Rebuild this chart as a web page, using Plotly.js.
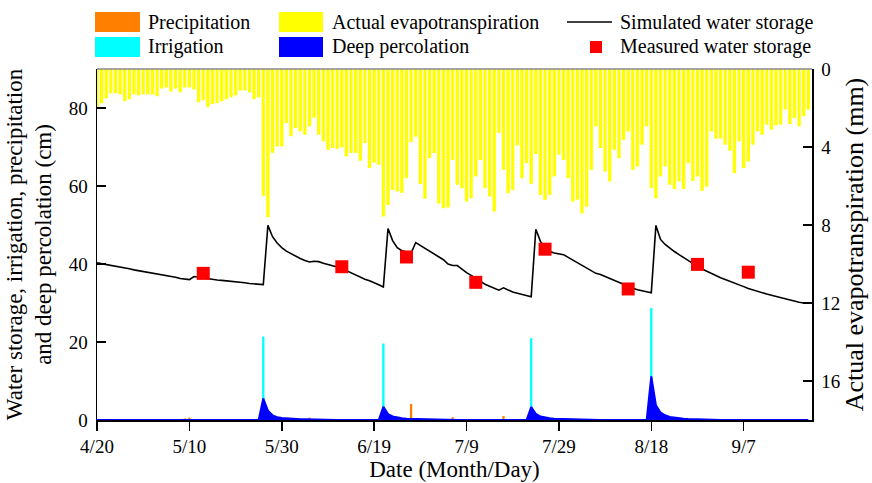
<!DOCTYPE html>
<html><head><meta charset="utf-8">
<script src="https://cdn.plot.ly/plotly-3.0.1.min.js"></script>
<style>html,body{margin:0;padding:0;background:#fff}</style>
</head><body><div id="chart" style="width:872px;height:483px"></div>
<script>
// Daily series start on 4/20 (index 0)
const startDate = '2019-04-20';

// Actual evapotranspiration (mm/day), right axis, hanging from top
const etValues = [
  1.95,1.75,1.5,1.25,1.25,1.3,1.65,1.55,1.3,1.35,
  1.3,1.3,1.3,1.4,1.0,0.95,1.15,1.0,1.2,0.95,
  0.95,1.05,1.7,1.6,1.95,1.8,1.75,1.65,1.55,1.45,
  1.35,1.1,1.1,1.2,1.55,1.45,6.5,7.6,4.3,3.97,
  3.97,2.77,3.45,3.02,3.2,3.37,2.94,2.5,3.37,3.71,
  4.14,4.05,4.1,4.02,4.48,4.3,4.3,4.7,3.8,5.08,
  4.8,4.91,7.57,6.97,6.2,6.28,6.35,5.6,3.75,3.47,
  5.9,6.65,4.57,4.31,6.9,7.14,7.1,4.66,5.94,6.11,
  6.8,6.63,5.51,4.66,6.11,6.54,7.31,3.28,5.17,6.37,
  6.2,3.92,5.6,4.83,5.89,4.36,6.46,6.71,6.46,5.51,
  4.4,4.66,5.6,6.8,6.71,7.4,7.06,5.17,2.94,4.05,
  5.26,5.77,4.14,4.57,3.63,3.2,5.17,5.0,3.88,2.94,
  6.11,6.63,5.51,5.0,5.94,6.15,5.77,6.15,4.83,5.74,
  5.51,6.25,6.03,3.2,3.57,3.57,3.88,4.19,5.34,3.71,
  5.08,4.74,3.88,3.2,3.37,2.85,3.11,2.89,2.85,2.08,
  2.82,2.51,2.94,2.42,2.08
];

// Simulated water storage (cm)
const storageSim = [
  40.3,40.1,39.9,39.6,39.4,39.2,39.0,38.8,38.5,38.3,
  38.1,37.9,37.7,37.4,37.2,37.0,36.8,36.6,36.3,36.1,
  36.0,36.8,36.6,36.4,36.2,36.1,35.9,35.8,35.7,35.5,
  35.4,35.3,35.2,35.0,34.9,34.8,34.7,49.9,47.0,45.4,
  44.2,43.3,42.6,42.0,41.4,40.9,40.5,40.7,40.6,40.2,
  39.9,39.6,39.3,38.9,38.3,37.7,37.1,36.5,36.1,35.7,
  35.3,34.7,34.1,49.1,46.0,44.2,43.4,43.0,42.8,45.5,
  44.8,44.1,43.4,42.7,42.0,41.1,40.0,39.6,39.6,38.6,
  37.8,37.1,36.3,35.5,34.8,34.3,33.7,33.3,33.9,33.3,
  32.8,32.5,32.2,31.8,31.6,48.9,45.8,44.2,43.2,42.8,
  42.6,42.4,41.7,41.0,40.2,39.5,38.8,38.1,37.6,37.3,
  36.8,36.2,35.6,35.1,34.7,34.3,33.8,33.4,33.1,32.8,
  32.6,49.9,46.3,45.0,44.0,43.2,42.4,41.6,40.9,40.2,
  39.4,38.7,38.1,37.5,37.0,36.5,36.0,35.6,35.1,34.7,
  34.2,33.7,33.3,32.9,32.6,32.3,32.0,31.7,31.3,31.0,
  30.7,30.5,30.2,30.0,30.0
];

// Deep percolation (cm)
const deepPerc = [
  0,0,0,0,0,0,0,0,0,0,
  0,0,0,0,0,0,0,0,0,0,
  0,0,0,0,0,0,0,0,0,0,
  0,0,0,0,0,0,5.5,2.4,1.2,0.7,
  0.5,0.4,0.3,0.25,0.2,0.2,0.15,0.1,0.05,0,
  0,0,0,0,0,0,0,0,0,0,
  0,0,3.4,1.5,0.9,0.6,0.45,0.35,0.3,0.25,
  0.2,0.15,0.1,0.1,0.05,0,0,0,0,0,
  0,0,0,0,0,0,0,0,0,0,
  0,0,0,0,3.3,1.6,0.9,0.6,0.45,0.35,
  0.3,0.2,0.15,0.1,0.1,0.05,0,0,0,0,
  0,0,0,0,0,0,0,0,0,0,
  11.2,3.8,1.9,1.2,0.8,0.6,0.45,0.35,0.25,0.2,
  0.1,0.05,0,0,0,0,0,0,0,0,
  0,0,0,0,0,0,0,0,0,0,
  0,0,0,0,0
];

// Precipitation events (cm)
const precipDates = ['2019-05-09','2019-05-10','2019-06-05','2019-06-27','2019-07-06','2019-07-17','2019-07-28'];
const precipValues = [0.4,0.6,0.6,4.1,0.7,1.0,0.5];

// Irrigation events (cm)
const irrigDates = ['2019-05-26','2019-06-21','2019-07-23','2019-08-18'];
const irrigValues = [21.4,19.6,21.0,28.7];

// Measured water storage (cm)
const measDates = ['2019-05-13','2019-06-12','2019-06-26','2019-07-11','2019-07-26','2019-08-13','2019-08-28','2019-09-08'];
const measValues = [37.6,39.3,41.8,35.3,43.8,33.6,39.9,37.9];

// Axis ticks
const leftTicks = [0,20,40,60,80];
const rightTicks = [0,4,8,12,16];

function dayString(i){
  const p = startDate.split('-').map(Number);
  const d = new Date(Date.UTC(p[0], p[1]-1, p[2] + i));
  return d.toISOString().slice(0,10);
}
const dates = etValues.map((_, i) => dayString(i));
const DAY = 86400000;

const serif = '"Liberation Serif", "Times New Roman", serif';

const traces = [
  { type:'bar', name:'Actual evapotranspiration', x:dates, y:etValues, yaxis:'y',
    width:0.72*DAY, marker:{color:'#ffff00', line:{width:0}} },
  { type:'bar', name:'Precipitation', x:precipDates, y:precipValues, yaxis:'y2',
    width:0.5*DAY, marker:{color:'#ff8000', line:{width:0}} },
  { type:'bar', name:'Irrigation', x:irrigDates, y:irrigValues, yaxis:'y2',
    width:0.5*DAY, marker:{color:'#00ffff', line:{width:0}} },
  { type:'scatter', mode:'lines', name:'Deep percolation', x:dates, y:deepPerc, yaxis:'y2',
    fill:'tozeroy', fillcolor:'#0000ff', line:{color:'#0000ff', width:2} },
  { type:'scatter', mode:'lines', name:'Simulated water storage', x:dates, y:storageSim, yaxis:'y2',
    line:{color:'#000000', width:1.6} },
  { type:'scatter', mode:'markers', name:'Measured water storage', x:measDates, y:measValues, yaxis:'y2',
    marker:{symbol:'square', size:13, color:'#ff0000'} }
];

// Legend (drawn in pixel positions converted to paper coords)
const M = {l:97, r:60, t:69, b:63};
const W = 872 - M.l - M.r, H = 483 - M.t - M.b;
const px = v => (v - M.l) / W;
const py = v => (483 - M.b - v) / H;
const legendItems = [
  {kind:'rect', color:'#ff8000', x0:95, x1:140, yc:22, text:'Precipitation', tx:146},
  {kind:'rect', color:'#00ffff', x0:95, x1:140, yc:47, text:'Irrigation', tx:146},
  {kind:'rect', color:'#ffff00', x0:279, x1:323, yc:22, text:'Actual evapotranspiration', tx:330},
  {kind:'rect', color:'#0000ff', x0:279, x1:323, yc:47, text:'Deep percolation', tx:330},
  {kind:'line', color:'#000000', x0:567, x1:612, yc:22, text:'Simulated water storage', tx:618},
  {kind:'square', color:'#ff0000', x0:590, x1:602, yc:47, text:'Measured water storage', tx:618}
];
const shapes = [
  {type:'line', xref:'paper', yref:'paper', x0:0, x1:1, y0:1, y1:1, line:{color:'#8a8a8a', width:1.5}}
];
const annotations = [];
legendItems.forEach(it => {
  if (it.kind === 'rect') {
    shapes.push({type:'rect', xref:'paper', yref:'paper', x0:px(it.x0), x1:px(it.x1), y0:py(it.yc+10), y1:py(it.yc-10),
      fillcolor:it.color, line:{width:0}});
  } else if (it.kind === 'line') {
    shapes.push({type:'line', xref:'paper', yref:'paper', x0:px(it.x0), x1:px(it.x1), y0:py(it.yc), y1:py(it.yc),
      line:{color:it.color, width:1.6}});
  } else {
    shapes.push({type:'rect', xref:'paper', yref:'paper', x0:px(it.x0), x1:px(it.x1), y0:py(it.yc+6), y1:py(it.yc-6),
      fillcolor:it.color, line:{width:0}});
  }
  annotations.push({xref:'paper', yref:'paper', x:px(it.tx), y:py(it.yc), xanchor:'left', yanchor:'middle',
    text:it.text, showarrow:false, font:{family:serif, size:20, color:'#000'}});
});

const layout = {
  width:872, height:483,
  margin:M,
  paper_bgcolor:'#ffffff', plot_bgcolor:'#ffffff',
  showlegend:false,
  barmode:'overlay',
  font:{family:serif, size:19, color:'#000'},
  xaxis:{
    type:'date', range:['2019-04-20','2019-09-21 19:00'],
    tick0:'2019-04-20', dtick:20*DAY, tickformat:'%-m/%-d',
    ticks:'outside', ticklen:9, tickwidth:1.5, tickcolor:'#000',
    showline:true, linecolor:'#000', linewidth:1.5, showgrid:false, zeroline:false,
    tickfont:{family:serif, size:19},
    title:{text:'Date (Month/Day)', font:{family:serif, size:23}, standoff:4}
  },
  yaxis:{
    side:'right', range:[18,0], tickvals:rightTicks, ticks:'inside', ticklen:9, tickwidth:1.5, tickcolor:'#000',
    showline:true, linecolor:'#000', linewidth:1.5, showgrid:false, zeroline:false,
    tickfont:{family:serif, size:19}, ticklabelstandoff:4,
    title:{text:'Actual evapotranspiration (mm)', font:{family:serif, size:26}, standoff:5}
  },
  yaxis2:{
    overlaying:'y', side:'left', range:[0,90], tickvals:leftTicks, ticks:'inside', ticklen:9, tickwidth:1.5, tickcolor:'#000',
    showline:true, linecolor:'#000', linewidth:1.5, showgrid:false, zeroline:false,
    tickfont:{family:serif, size:19}, ticklabelstandoff:4,
    title:{text:'Water storage, irrigation, precipitation<br>and deep percolation (cm)', font:{family:serif, size:23}, standoff:10}
  },
  shapes:shapes,
  annotations:annotations
};

Plotly.newPlot('chart', traces, layout, {displayModeBar:false, staticPlot:true});
</script>
</body></html>
